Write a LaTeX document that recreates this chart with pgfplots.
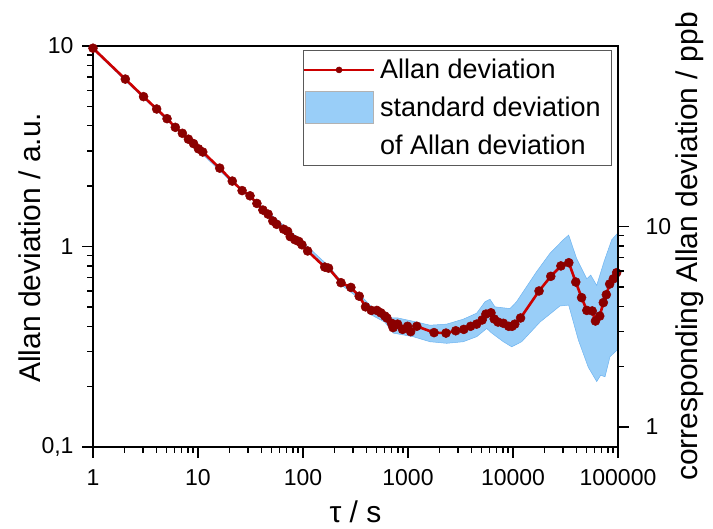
\documentclass[border=0pt]{standalone}
\usepackage{pgfplots}
\pgfplotsset{compat=1.18}
\usepackage{fontspec}
\setmainfont{Liberation Sans}
\definecolor{lred}{RGB}{204,0,0}
\definecolor{dred}{RGB}{139,0,0}
\definecolor{band}{RGB}{153,206,248}
\definecolor{bandedge}{RGB}{110,180,240}
\pgfplotsset{
  mylineleg/.style={legend image code/.code={\draw[mark repeat=2,mark phase=2,##1, mark size=3pt, line width=2.2pt]
    plot coordinates {(0pt,0pt) (35pt,0pt) (70pt,0pt)};}},
  mybandleg/.style={legend image code/.code={\draw[fill=band,draw=gray!60,line width=0.8pt] (1pt,-16pt) rectangle (69pt,16pt);}},
}
\begin{document}
\begin{tikzpicture}
\begin{axis}[
  name=main, at={(0pt,0pt)}, anchor=south west,
  scale only axis, width=525pt, height=401pt,
  xmode=log, ymode=log, xmin=1, xmax=100000, ymin=0.1, ymax=10,
  xtick={1,10,100,1000,10000,100000},
  xticklabels={1,10,100,1000,10000,100000},
  ytick={0.1,1,10}, yticklabels={{0,1},1,10},
  tick pos=left, tick align=outside,
  major tick length=11pt, minor tick length=6pt,
  every tick/.append style={black, line width=1.4pt},
  axis line style={line width=1.6pt},
  ticklabel style={font=\fontsize{23}{27}\selectfont},
  xticklabel style={yshift=-8pt},
  yticklabel style={xshift=-5pt},
  /pgf/number format/assume math mode=true,
  xlabel={τ / s}, ylabel={Allan deviation / a.u.},
  every axis x label/.style={at={(axis description cs:0.5,-0.162)}, anchor=center, font=\fontsize{30}{36}\selectfont},
  every axis y label/.style={at={(axis description cs:-0.12,0.497)}, rotate=90, anchor=center, font=\fontsize{30}{36}\selectfont},
  legend style={at={(axis description cs:0.989,0.99)}, anchor=north east,
    draw=gray!70!black, line width=0.8pt, font=\fontsize{27}{32}\selectfont,
    inner xsep=0pt, inner ysep=7pt, row sep=9pt, cells={anchor=west}},
  /tikz/every odd column/.append style={column sep=3pt},
  legend cell align=left,
]
\addplot[fill=band, draw=bandedge, line width=0.5pt, forget plot] coordinates {
(1,9.9) (2,6.9) (5,4.38) (10,3.12) (20,2.2) (50,1.44) (100,1.05) (175,0.80)
(230,0.675) (343,0.58) (450,0.50) (600,0.47) (700,0.44) (803,0.44) (1210,0.42)
(1620,0.405) (2335,0.41) (3360,0.434) (4510,0.465) (5410,0.53) (6030,0.546)
(6740,0.50) (9360,0.49) (10800,0.53) (16800,0.75) (22500,0.925) (30100,1.08)
(33900,1.14) (40400,0.87) (50400,0.69) (55000,0.72) (62700,0.64) (73600,0.84)
(87100,1.08) (98500,1.16) (100000,1.18)
(100000,0.31) (98500,0.305) (83900,0.282) (75200,0.224) (68400,0.228)
(62700,0.212) (52100,0.25) (41900,0.342) (33900,0.51) (28000,0.505)
(18100,0.42) (12100,0.335) (9720,0.316) (8090,0.335) (6270,0.37) (5620,0.39)
(4510,0.355) (3360,0.335) (2335,0.329) (1620,0.335) (1120,0.355) (724,0.37)
(600,0.42) (450,0.455) (343,0.55) (230,0.645) (175,0.77) (100,1.01) (50,1.41)
(20,2.14) (10,3.03) (5,4.28) (2,6.75) (1,9.6)
} -- cycle;
\addplot[lred, line width=2.6pt, mark=*, mark size=4.5pt,
  mark options={fill=dred, draw=dred, line width=0.5pt}, mylineleg] coordinates {
(1,9.75) (2.03,6.84) (3.03,5.59) (4.04,4.85) (5.07,4.34) (6.08,3.93) (7.1,3.67)
(8.1,3.43) (9.07,3.26) (10.1,3.07) (11.1,2.96) (16.1,2.46) (21.2,2.12)
(26.3,1.90) (31.3,1.79) (36.4,1.64) (41.5,1.52) (46.5,1.45) (51.6,1.34)
(56.2,1.29) (65.4,1.22) (71.4,1.19) (75.6,1.12) (83.9,1.08) (91.2,1.06)
(97.7,1.02) (110.6,0.95) (161,0.79) (175,0.78) (230,0.66) (286,0.625) (343,0.565)
(394,0.50) (447,0.48) (505,0.48) (551,0.467) (602,0.45) (630,0.44) (697,0.414)
(721,0.394) (796,0.41) (888,0.386) (990,0.40) (1060,0.376) (1212,0.40)
(1770,0.372) (2300,0.37) (2850,0.38) (3400,0.386) (3950,0.40) (4500,0.41)
(5080,0.43) (5520,0.46) (6170,0.467) (6620,0.435) (7200,0.42) (8100,0.414)
(9100,0.40) (9800,0.40) (10400,0.41) (11800,0.44) (17700,0.60) (22900,0.71)
(28600,0.80) (34000,0.83) (39600,0.665) (45000,0.556) (50500,0.48)
(56800,0.477) (61000,0.425) (67000,0.45) (72500,0.525) (77400,0.575)
(83300,0.65) (90200,0.69) (97000,0.74)
};
\addlegendentry{Allan deviation}
\addlegendimage{mybandleg}
\addlegendentry{standard deviation\rule{9pt}{0pt}}
\addlegendimage{empty legend}
\addlegendentry{of  Allan deviation}
\end{axis}
\begin{axis}[
  at={(0pt,0pt)}, anchor=south west,
  scale only axis, width=525pt, height=401pt,
  xmode=log, xmin=1, xmax=100000, ymode=log, ymin=0.795, ymax=79.5,
  axis x line=none, axis y line*=right,
  ytick={1,10}, yticklabels={1,10},
  tick align=outside, major tick length=11pt, minor tick length=6pt,
  every tick/.append style={black, line width=1.4pt},
  axis line style={line width=1.6pt},
  ticklabel style={font=\fontsize{23}{27}\selectfont},
  yticklabel style={xshift=13pt},
  /pgf/number format/assume math mode=true,
  ylabel={corresponding Allan deviation / ppb},
  every axis y label/.style={at={(axis description cs:1.137,0.5)}, rotate=90, anchor=center, font=\fontsize{30}{36}\selectfont},
]
\addplot[draw=none] coordinates {(1,1)};
\end{axis}
\pgfresetboundingbox
\path (-93pt,-82pt) rectangle (620pt,447pt);
\end{tikzpicture}
\end{document}
